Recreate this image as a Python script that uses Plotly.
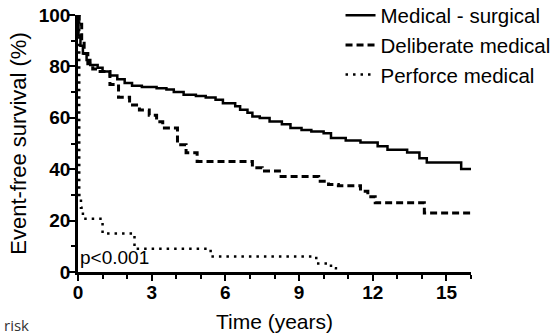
import plotly.graph_objects as go

# Kaplan-Meier style step curves (time in years, event-free survival %)
ms_time = [0, 0.02, 0.1, 0.2, 0.35, 0.5, 0.8, 1.0, 1.3, 1.6, 1.9, 2.2, 2.6, 3.2, 3.6, 3.9,
           4.3, 4.8, 5.2, 5.6, 5.9, 6.4, 6.6, 6.9, 7.1, 7.4, 7.8, 8.3, 8.65, 9.1, 9.5,
           10.0, 10.3, 10.9, 11.5, 12.2, 12.6, 13.4, 13.9, 14.2, 15.6, 16.0]
ms_surv = [100, 92, 88, 85, 82.5, 80.5, 79.5, 78, 76.5, 75, 73.5, 72.5, 72, 71.5, 71, 70,
           69, 68.5, 67.9, 67, 65.7, 64.5, 63.1, 62, 60.5, 59.9, 58.6, 57.5, 56, 55.3, 54.7,
           54, 52.1, 51.2, 50.4, 48.9, 47.6, 46.5, 44.3, 42.6, 40.1, 40.1]

dm_time = [0, 0.05, 0.15, 0.25, 0.4, 0.6, 0.9, 1.3, 1.65, 2.1, 2.5, 2.9, 3.2, 3.45,
           4.05, 4.4, 4.85, 7.1, 7.5, 8.2, 9.8, 10.2, 10.6, 11.5, 11.8, 12.1, 14.1, 16.0]
dm_surv = [100, 96.4, 90, 85, 81, 79, 78, 73, 68, 65, 63, 61, 58.5, 56,
           49.5, 46.4, 43, 40.6, 39.3, 37.2, 35.3, 34, 33.6, 31.4, 29.3, 26.9, 23, 23]

pm_time = [0, 0.05, 0.12, 0.2, 1.0, 2.3, 5.4, 9.7, 10.3, 10.5]
pm_surv = [100, 30, 25, 20.7, 15, 9, 6, 3.3, 1.5, 0]

series_names = ["Medical - surgical", "Deliberate medical", "Perforce medical"]

x_ticks = [0, 3, 6, 9, 12, 15]
y_ticks = [0, 20, 40, 60, 80, 100]

fig = go.Figure()
fig.add_trace(go.Scatter(x=ms_time, y=ms_surv, mode="lines", line_shape="hv",
                         name=series_names[0],
                         line=dict(color="black", width=2.5)))
fig.add_trace(go.Scatter(x=dm_time, y=dm_surv, mode="lines", line_shape="hv",
                         name=series_names[1],
                         line=dict(color="black", width=3, dash="7px,4px")))
fig.add_trace(go.Scatter(x=pm_time, y=pm_surv, mode="lines", line_shape="hv",
                         name=series_names[2],
                         line=dict(color="black", width=2.5, dash="2.5px,5px")))

fig.update_layout(
    width=559, height=336,
    margin=dict(l=78, r=88, t=15, b=64, autoexpand=False),
    paper_bgcolor="white", plot_bgcolor="white",
    font=dict(family="Liberation Sans, Arial, sans-serif", color="black"),
    showlegend=True,
    legend=dict(x=0.668, y=1.076, xanchor="left", yanchor="top",
                font=dict(size=20.5, color="black"), bgcolor="rgba(0,0,0,0)",
                itemwidth=30, traceorder="normal"),
    xaxis=dict(range=[0, 16], tickvals=x_ticks, ticktext=[str(v) for v in x_ticks],
               showgrid=False, zeroline=False, showline=True, linecolor="black",
               linewidth=2.5, ticks="outside", ticklen=6, tickwidth=2, tickcolor="black",
               minor=dict(dtick=1, ticks="outside", ticklen=4, tickwidth=2, tickcolor="black"),
               tickfont=dict(size=19, family="Liberation Sans, Arial", weight="bold"),
               ticklabelstandoff=-5,
               title=dict(text="Time (years)", font=dict(size=21), standoff=13),
               automargin=False),
    yaxis=dict(range=[0, 100], tickvals=y_ticks, ticktext=[str(v) for v in y_ticks],
               showgrid=False, zeroline=False, showline=True, linecolor="black",
               linewidth=2.5, ticks="outside", ticklen=6, tickwidth=2, tickcolor="black",
               minor=dict(dtick=10, ticks="outside", ticklen=4, tickwidth=2, tickcolor="black"),
               tickfont=dict(size=19, family="Liberation Sans, Arial", weight="bold"),
               ticklabelstandoff=-5,
               title=dict(text="Event-free survival (%)", font=dict(size=22), standoff=7),
               automargin=False),
    annotations=[
        dict(text="p<0.001", x=0, y=5.6, xref="x", yref="y", xanchor="left",
             yanchor="middle", showarrow=False, font=dict(size=19, color="black")),
        dict(text="risk", x=-0.193, y=-0.206, xref="paper", yref="paper",
             xanchor="left", yanchor="middle", showarrow=False,
             font=dict(size=15, family="Open Sans, sans-serif", color="#333333")),
    ],
)

fig.write_html("out.html", post_script="document.body.style.margin='0';",
               config={"displayModeBar": False})
